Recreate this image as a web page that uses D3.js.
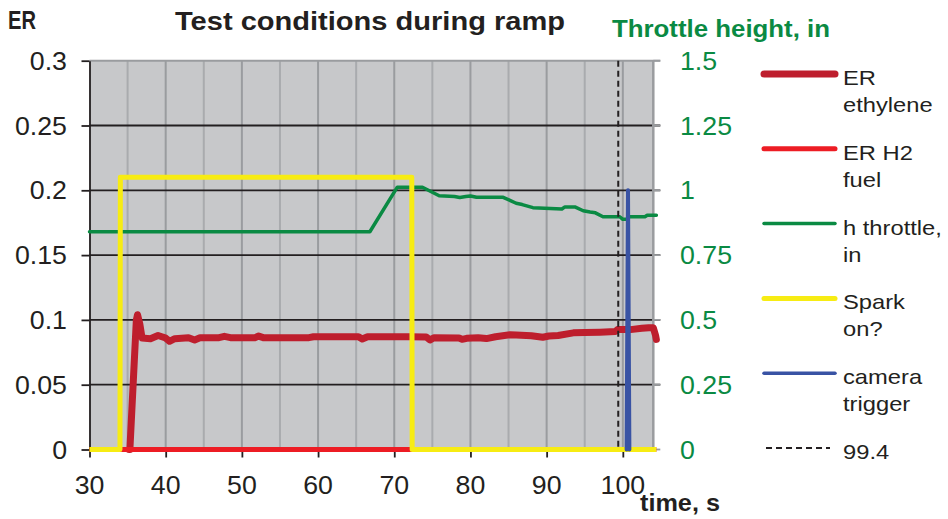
<!DOCTYPE html>
<html><head><meta charset="utf-8">
<script src="https://cdn.jsdelivr.net/npm/d3@7"></script>
<style>body{margin:0;background:#fff}svg{display:block}text{font-family:"Liberation Sans",Arial,sans-serif}</style>
</head><body>
<svg id="c" width="948" height="519"></svg>
<script>
// ---- data ----
const xTicks = [30,40,50,60,70,80,90,100];
const yLeftTicks = [0,0.05,0.1,0.15,0.2,0.25,0.3];
const yLeftLabels = ["0","0.05","0.1","0.15","0.2","0.25","0.3"];
const yRightTicks = [0,0.25,0.5,0.75,1,1.25,1.5];
const yRightLabels = ["0","0.25","0.5","0.75","1","1.25","1.5"];

const erEthylene = [[35.2,0],[35.3,0],[36.15,0.1],[36.3,0.104],[36.6,0.097],[36.9,0.086],[38,0.0855],[39,0.088],[40,0.086],[40.5,0.0835],[41.2,0.0855],[43,0.0863],[43.8,0.0845],[44.5,0.0862],[47,0.0863],[47.7,0.0873],[48.5,0.0863],[51.7,0.0863],[52.2,0.0875],[52.8,0.0863],[58.8,0.0863],[59.4,0.087],[65.3,0.087],[65.8,0.0852],[66.5,0.087],[72,0.087],[74.2,0.0868],[74.7,0.0845],[75.2,0.0862],[78.5,0.086],[78.9,0.085],[79.5,0.0858],[81,0.0862],[82.1,0.0856],[83.3,0.087],[85.2,0.0885],[86,0.0883],[88,0.0878],[89.5,0.0866],[90.3,0.0876],[91.5,0.088],[93.5,0.09],[95,0.0902],[97,0.0905],[99,0.091],[99.3,0.0925],[101,0.0925],[102.5,0.0935],[103.4,0.094],[104,0.094],[104.3,0.088],[104.4,0.085]];
const erH2 = [[30,0],[104.4,0]];
const hThrottle = [[30,0.84],[66.8,0.84],[70.4,1.012],[73.7,1.012],[75.9,0.979],[77.9,0.976],[78.6,0.972],[79.4,0.976],[80,0.978],[80.8,0.973],[84.3,0.973],[86,0.95],[86.8,0.945],[88.2,0.933],[92,0.928],[92.4,0.936],[93.7,0.936],[94.8,0.921],[95.7,0.916],[96.4,0.913],[97.4,0.898],[99.6,0.898],[100,0.888],[100.5,0.888],[100.9,0.898],[102.9,0.898],[103.2,0.904],[104.4,0.904]];
const sparkOn = [[30,0],[34.0,0],[34.05,0.21],[72.3,0.21],[72.35,0],[104.4,0]];
const cameraTrigger = [[100.5,0],[100.68,0.2],[100.86,0]];
const markerTime = 99.4;

const legendItems = [
  {lines:["ER","ethylene"], color:"#be1e2d", w:7},
  {lines:["ER H2","fuel"], color:"#ed1c24", w:5},
  {lines:["h throttle,","in"], color:"#0a8a43", w:3.5},
  {lines:["Spark","on?"], color:"#f7ec13", w:5},
  {lines:["camera","trigger"], color:"#3953a4", w:3.5},
  {lines:["99.4"], color:"#231f20", w:2, dash:"6,4"}
];

// ---- layout ----
const L=89.5, R=653.3, T=60.7, B=449.5;
const x = d3.scaleLinear().domain([30,104]).range([L,R]);
const yL = d3.scaleLinear().domain([0,0.3]).range([B,T]);
const yR = d3.scaleLinear().domain([0,1.5]).range([B,T]);
const svg = d3.select("#c");
const SX = 1.13;
function txt(g, s, tx, ty, opt){
  const t = g.append("text").attr("transform",`translate(${tx},${ty}) scale(${opt.sx||SX},1)`)
    .attr("font-size",opt.size).attr("fill",opt.fill||"#231f20")
    .attr("text-anchor",opt.anchor||"start").text(s);
  if(opt.bold) t.attr("font-weight","bold");
  return t;
}

// plot background
svg.append("rect").attr("x",L).attr("y",T).attr("width",R-L).attr("height",B-T).attr("fill","#c7c8ca");
// vertical gridlines every 5
const vg = d3.range(35,104,5);
svg.append("g").selectAll("line").data(vg).join("line")
  .attr("x1",d=>x(d)).attr("x2",d=>x(d)).attr("y1",T).attr("y2",B)
  .attr("stroke",d=>d%10===0?"#9a9c9f":"#a9abae").attr("stroke-width",2);
// horizontal gridlines
svg.append("g").selectAll("line").data(yLeftTicks.slice(1,-1)).join("line")
  .attr("x1",L).attr("x2",R+7).attr("y1",d=>yL(d)).attr("y2",d=>yL(d))
  .attr("stroke","#231f20").attr("stroke-width",1.8);
// right-end grey ticks on gridlines
svg.append("g").selectAll("line").data(yRightTicks).join("line")
  .attr("x1",R).attr("x2",R+7).attr("y1",d=>yR(d)).attr("y2",d=>yR(d))
  .attr("stroke","#9a9c9f").attr("stroke-width",1.8);
// top and right border (grey)
svg.append("line").attr("x1",L).attr("x2",R+7).attr("y1",T).attr("y2",T).attr("stroke","#9a9c9f").attr("stroke-width",2);
svg.append("line").attr("x1",R).attr("x2",R).attr("y1",T).attr("y2",B).attr("stroke","#9a9c9f").attr("stroke-width",2.5);

// axes
const axL = svg.append("g").attr("transform",`translate(${L},0)`)
  .call(d3.axisLeft(yL).tickValues(yLeftTicks).tickFormat(()=>"").tickSize(8).tickSizeOuter(0));
axL.selectAll("path,line").attr("stroke","#231f20").attr("stroke-width",1.8);
const axB = svg.append("g").attr("transform",`translate(0,${B})`)
  .call(d3.axisBottom(x).tickValues(xTicks).tickFormat(()=>"").tickSize(8).tickSizeOuter(0));
axB.selectAll("path,line").attr("stroke","#231f20").attr("stroke-width",1.8);

// tick labels
const lab = svg.append("g");
yLeftTicks.forEach((v,i)=>txt(lab,yLeftLabels[i],67,yL(v)+9,{size:25,anchor:"end",sx:1.07}));
yRightTicks.forEach((v,i)=>txt(lab,yRightLabels[i],680,yR(v)+9,{size:25,fill:"#0a8a43",sx:1.07}));
xTicks.forEach(v=>txt(lab,String(v),x(v),494,{size:25,anchor:"middle",sx:1.07}));

// series
const lineL = d3.line().x(d=>x(d[0])).y(d=>yL(d[1]));
const lineR = d3.line().x(d=>x(d[0])).y(d=>yR(d[1]));
const S = svg.append("g").attr("fill","none").attr("stroke-linejoin","round").attr("stroke-linecap","round");
S.append("path").datum(erEthylene).attr("d",lineL).attr("stroke","#be1e2d").attr("stroke-width",7);
S.append("path").datum(erH2).attr("d",lineL).attr("stroke","#ed1c24").attr("stroke-width",5).attr("stroke-linecap","butt");
S.append("path").datum(hThrottle).attr("d",lineR).attr("stroke","#0a8a43").attr("stroke-width",3.5);
S.append("path").datum(sparkOn).attr("d",lineL).attr("stroke","#f7ec13").attr("stroke-width",5).attr("stroke-linecap","butt");
S.append("path").datum(cameraTrigger).attr("d",lineL).attr("stroke","#3953a4").attr("stroke-width",4);
svg.append("line").attr("x1",x(markerTime)).attr("x2",x(markerTime)).attr("y1",T).attr("y2",B)
  .attr("stroke","#231f20").attr("stroke-width",2).attr("stroke-dasharray","6,4");

// titles
svg.append("text").attr("x",8).attr("y",29).attr("font-size",25).attr("font-weight","bold").attr("fill","#231f20")
  .attr("textLength",28).attr("lengthAdjust","spacingAndGlyphs").text("ER");
svg.append("text").attr("x",175).attr("y",30).attr("font-size",26).attr("font-weight","bold").attr("fill","#231f20")
  .attr("textLength",390).attr("lengthAdjust","spacingAndGlyphs").text("Test conditions  during ramp");
svg.append("text").attr("x",612).attr("y",37).attr("font-size",23).attr("font-weight","bold").attr("fill","#0a8a43")
  .attr("textLength",218).attr("lengthAdjust","spacingAndGlyphs").text("Throttle height, in");
svg.append("text").attr("x",640).attr("y",511).attr("font-size",23).attr("font-weight","bold").attr("fill","#231f20")
  .attr("textLength",80).attr("lengthAdjust","spacingAndGlyphs").text("time, s");

// legend
const lg = svg.append("g");
legendItems.forEach((d,i)=>{
  const cy = 74 + i*74.8;
  const ln = lg.append("line").attr("x1",764).attr("x2",835).attr("y1",cy).attr("y2",cy)
    .attr("stroke",d.color).attr("stroke-width",d.w).attr("stroke-linecap",d.dash?"butt":"round");
  if(d.dash) ln.attr("stroke-dasharray",d.dash).attr("x1",766).attr("x2",830);
  d.lines.forEach((s,j)=>txt(lg,s,843,cy+11+j*27,{size:21}));
});
</script>
</body></html>
